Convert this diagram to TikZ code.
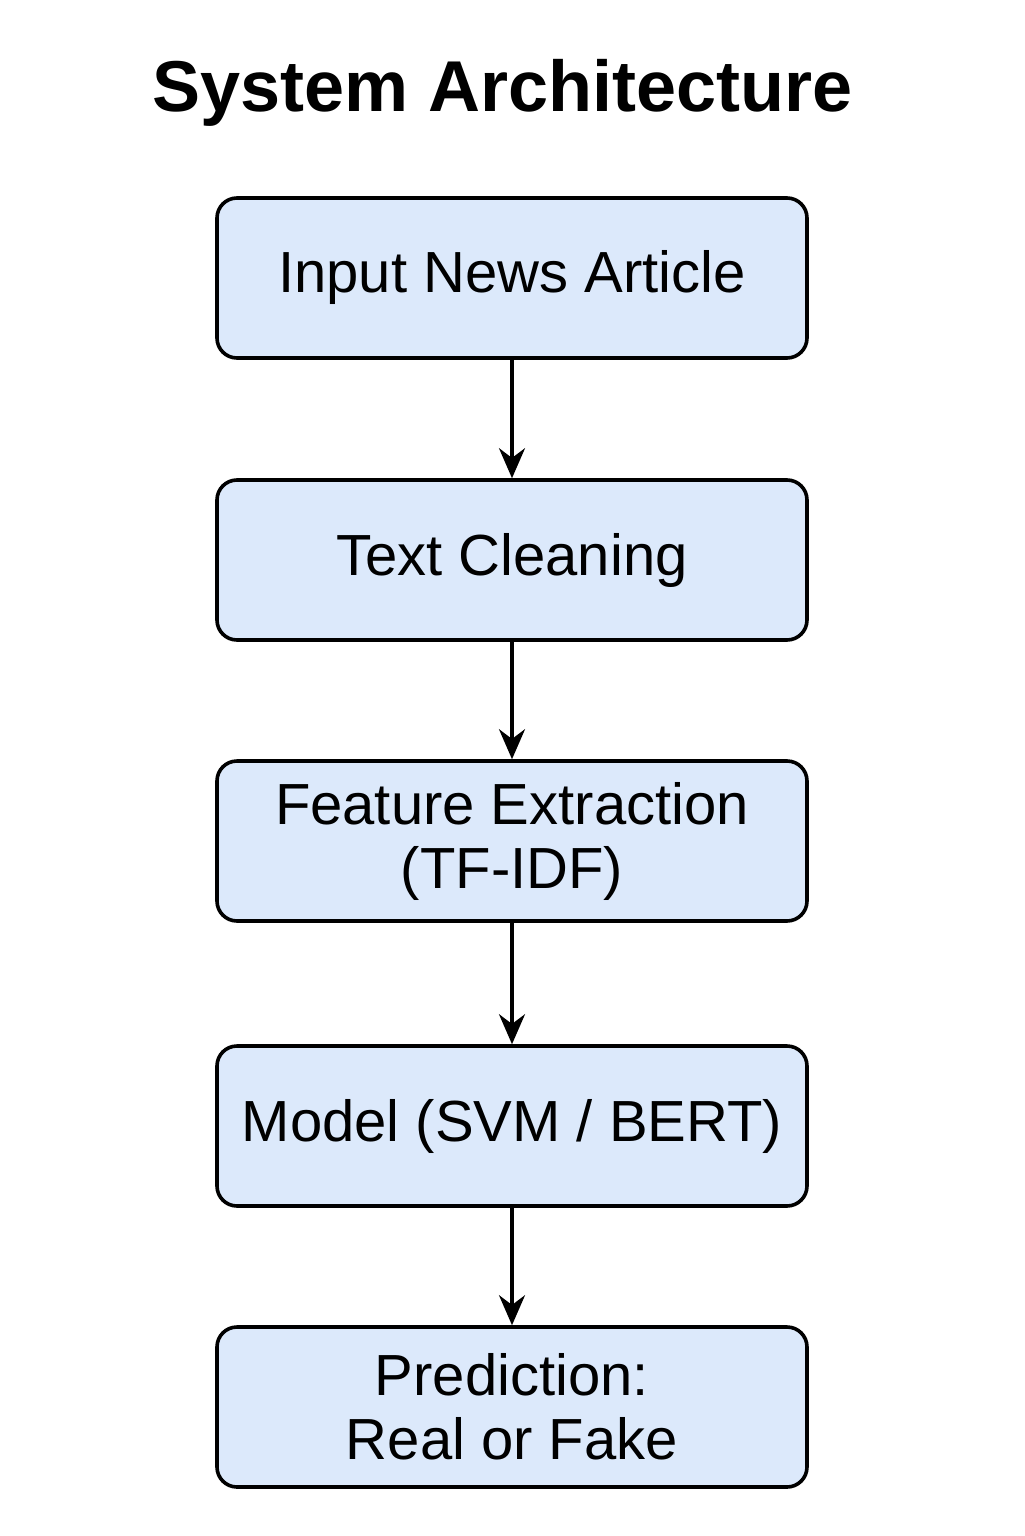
\documentclass[tikz,border=0pt]{standalone}
\usepackage{fontspec}
\setmainfont{Liberation Sans}
\usepackage{xcolor}
\usetikzlibrary{arrows.meta}
\definecolor{boxfill}{RGB}{220,233,251}
\tikzset{
  stage/.style={draw=black, line width=1.8pt, fill=boxfill, rounded corners=10pt,
    minimum width=295pt, minimum height=80pt, align=center, inner sep=0pt,
    font=\fontsize{29}{32}\selectfont},
  flow/.style={line width=1.6pt, -{Stealth[length=15pt,width=13pt]}}
}
\begin{document}
\begin{tikzpicture}[x=0.5pt,y=0.5pt,yscale=-1,xscale=1]
\useasboundingbox (0,0) rectangle (1024,1536);
% Title
\node (title) at (503,112) [anchor=base] {\fontsize{36}{42}\selectfont\bfseries System Architecture};
% Stages
\node (input) at (512,278) [stage] {Input News Article};
\node (clean) at (512,560) [stage] {Text Cleaning};
\node (feat) at (512,841) [stage] {Feature Extraction\\(TF-IDF)};
\node (model) at (512,1126) [stage] {Model (SVM / BERT)};
\node (pred) at (512,1407) [stage] {Prediction:\\Real or Fake};
% Arrows
\draw [flow] (input) -- (clean);
\draw [flow] (clean) -- (feat);
\draw [flow] (feat) -- (model);
\draw [flow] (model) -- (pred);
\end{tikzpicture}
\end{document}
